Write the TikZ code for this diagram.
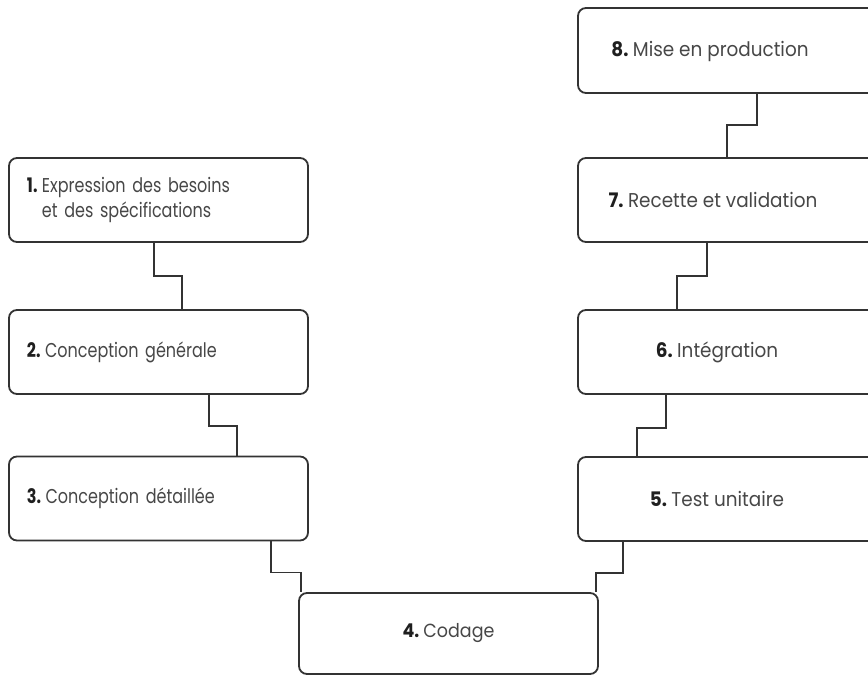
\documentclass[tikz,border=0pt]{standalone}
\usepackage{fontspec}
\setmainfont{Poppins}[FakeStretch=0.8]
\newfontfamily\widestage{Poppins}[FakeStretch=0.92]
\usetikzlibrary{calc}

\definecolor{linegray}{HTML}{333333}
\definecolor{textgray}{HTML}{474747}
\newcommand{\stagenum}[1]{\textbf{\color{black!88}#1}\hspace{0.22em}}

\tikzset{
  stage/.style={rectangle, draw=linegray, line width=1.8pt, rounded corners=8pt, inner sep=0pt,
    text=textgray, font=\fontsize{20}{25}\selectfont},
  leftstage/.style={stage, minimum width=299, minimum height=84, text width=263, inner xsep=18, align=left},
  rightstage/.style={stage, minimum width=302, minimum height=84},
  stagetext/.style={text=textgray, font=\widestage\fontsize{20}{25}\selectfont, inner sep=0pt},
  link/.style={draw=linegray, line width=1.8pt},
}

\begin{document}
\begin{tikzpicture}[x=1pt, y=-1pt]
      \useasboundingbox (0,0) rectangle (868,675);
      \clip (0,0) rectangle (868,675);

      \node[leftstage] (b1) at (158.5,200) {\stagenum{1.}Expression des besoins\\\hphantom{\stagenum{1.}}et des spécifications};
      \node[leftstage] (b2) at (158.5,352) {\stagenum{2.}Conception générale};
      \node[leftstage] (b3) at (158.5,498.5) {\stagenum{3.}Conception détaillée};

      \node[stage, minimum width=299, minimum height=81, font=\widestage\fontsize{19}{25}\selectfont] (b4) at (448.5,633.5) {\stagenum{4.}Codage};

      \node[rightstage] (b5) at (729,499) {};
      \node[rightstage] (b6) at (729,352) {};
      \node[rightstage] (b7) at (729,200) {};
      \node[rightstage, minimum height=85] (b8) at (729,50.5) {};

      \node[stagetext] (t5) at (717,499) {\stagenum{5.}Test unitaire};
      \node[stagetext] (t6) at (717,352) {\stagenum{6.}Intégration};
      \node[stagetext] (t7) at (713,200) {\stagenum{7.}Recette et validation};
      \node[stagetext] (t8) at (710,51) {\stagenum{8.}Mise en production};

      \draw[link] ($(b1.south west)+(146,0)$) -- ++(0,33) -| ($(b2.north west)+(174,0)$);
      \draw[link] ($(b2.south west)+(201,0)$) -- ++(0,31) -| ($(b3.north west)+(229,0)$);
      \draw[link] ($(b3.south west)+(263,0)$) -- ++(0,31) -| ($(b4.north west)+(3,0)$);
      \draw[link] ($(b5.south west)+(46,0)$) -- ++(0,31) -| ($(b4.north east)+(-3,0)$);
      \draw[link] ($(b6.south west)+(89,0)$) -- ++(0,33) -| ($(b5.north west)+(60,0)$);
      \draw[link] ($(b7.south west)+(130,0)$) -- ++(0,33) -| ($(b6.north west)+(100,0)$);
      \draw[link] ($(b8.south west)+(180,0)$) -- ++(0,31) -| ($(b7.north west)+(150,0)$);

\end{tikzpicture}
\end{document}
